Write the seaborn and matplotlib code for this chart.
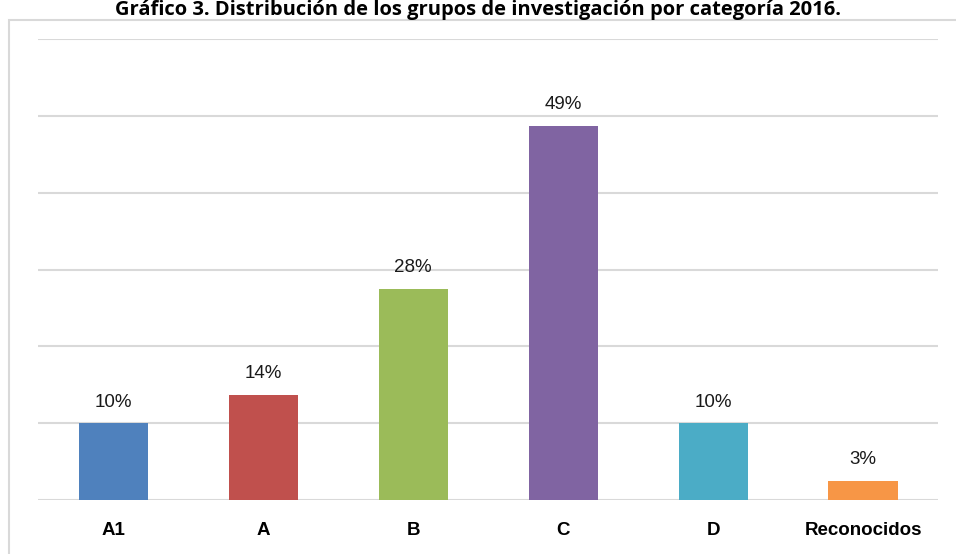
import matplotlib
matplotlib.use("Agg")
import matplotlib.pyplot as plt
import pandas as pd
import seaborn as sns
from matplotlib.patches import Rectangle

# Datos
categorias = ["A1", "A", "B", "C", "D", "Reconocidos"]
porcentajes = [10.0, 13.7, 27.5, 48.7, 10.0, 2.5]
etiquetas = ["10%", "14%", "28%", "49%", "10%", "3%"]
colores = ["#4f81bd", "#c0504d", "#9bbb59", "#8064a2", "#4bacc6", "#f79646"]
titulo = "Gráfico 3. Distribución de los grupos de investigación por categoría 2016."

df = pd.DataFrame({"categoria": categorias, "porcentaje": porcentajes})

sns.set_theme(style="white")
plt.rcParams["font.family"] = ["Liberation Sans", "DejaVu Sans"]

fig = plt.figure(figsize=(9.56, 5.54), dpi=100)
ax = fig.add_axes([38 / 956, 1 - 500 / 554, 900 / 956, 461 / 554])

# Marco del grafico (borde izquierdo y superior visibles)
fig.patches.append(Rectangle((9 / 956, -0.1), 1.2, 1 - 20 / 554 + 0.1,
                             transform=fig.transFigure, fill=False,
                             edgecolor="#d9d9d9", linewidth=1.5, zorder=0))

sns.barplot(data=df, x="categoria", y="porcentaje", hue="categoria",
            palette=colores, legend=False, width=0.46, saturation=1,
            linewidth=0, ax=ax, zorder=3)

ax.set_ylim(0, 60)
ax.set_xlim(-0.5, len(categorias) - 0.5)
ax.set_yticks(range(0, 61, 10))
ax.yaxis.grid(True, color="#d9d9d9", linewidth=1.5, zorder=0)
ax.set_axisbelow(True)
ax.tick_params(axis="y", left=False, labelleft=False)
ax.tick_params(axis="x", bottom=False, pad=10)
for s in ax.spines.values():
    s.set_visible(False)
ax.set_xlabel("")
ax.set_ylabel("")
for lab in ax.get_xticklabels():
    lab.set_fontweight("bold")
    lab.set_fontsize(13.5)
    lab.set_color("black")

for i, (v, t) in enumerate(zip(porcentajes, etiquetas)):
    ax.annotate(t, (i, v), xytext=(0, 9), textcoords="offset points",
                ha="center", va="bottom", fontsize=13.5, color="#1a1a1a")

fig.text(0.5, 1 - 15 / 554, titulo, ha="center", va="baseline",
         fontsize=14.5, fontweight="bold", family=["Open Sans", "DejaVu Sans"],
         color="#000000")

fig.savefig("out.png", dpi=100)
